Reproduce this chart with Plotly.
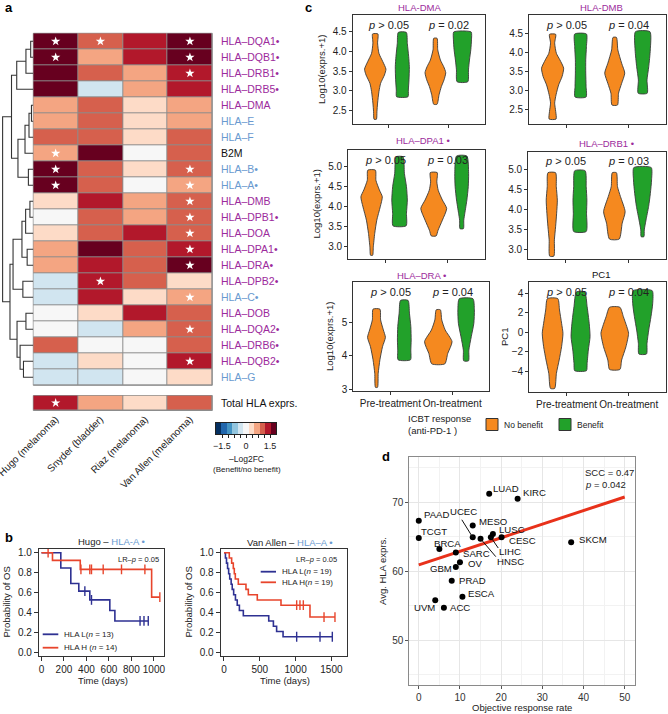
import numpy as np
import plotly.graph_objects as go

W, H = 668, 714
FONT = "Liberation Sans, Arial, sans-serif"
PURPLE = "#9c2a9c"
CLS1 = "#6a9ad0"
ORANGE = "#f5891f"
GREEN = "#22a12a"
KM_BLUE = "#2e3192"
KM_RED = "#e8452c"

# ---------------- Panel a data ----------------
genes = ["HLA–DQA1", "HLA–DQB1", "HLA–DRB1", "HLA–DRB5", "HLA–DMA", "HLA–E", "HLA–F", "B2M",
         "HLA–B", "HLA–A", "HLA–DMB", "HLA–DPB1", "HLA–DOA", "HLA–DPA1", "HLA–DRA", "HLA–DPB2",
         "HLA–C", "HLA–DOB", "HLA–DQA2", "HLA–DRB6", "HLA–DQB2", "HLA–G"]
gene_class = ["II", "II", "II", "II", "II", "I", "I", "B2M", "I", "I", "II", "II", "II", "II",
              "II", "II", "I", "II", "II", "II", "II", "I"]
gene_marked = [1, 1, 1, 1, 0, 0, 0, 0, 1, 1, 0, 1, 0, 1, 1, 1, 1, 0, 1, 1, 1, 0]
cohorts = ["Hugo (melanoma)", "Snyder (bladder)", "Riaz (melanoma)", "Van Allen (melanoma)"]
neg_log2fc = [
    [1.70, 1.02, 1.36, 1.70],
    [1.70, 0.68, 1.36, 1.70],
    [1.70, 1.02, 0.68, 1.36],
    [1.70, -0.34, 0.68, 1.36],
    [0.68, 1.02, 0.34, 0.68],
    [0.68, 1.02, 0.34, 0.68],
    [1.02, 1.02, 0.34, 1.02],
    [0.68, 1.70, 0.00, 1.02],
    [1.70, 1.02, 0.34, 1.02],
    [1.70, 1.02, 0.00, 0.68],
    [0.34, 1.36, 0.68, 1.02],
    [0.00, 1.02, 0.68, 1.02],
    [0.34, 1.02, 1.36, 1.02],
    [0.68, 1.70, 1.02, 1.36],
    [0.68, 1.36, 1.02, 1.70],
    [-0.34, 1.36, 1.02, 0.34],
    [-0.34, 1.36, 0.34, 0.68],
    [0.00, 0.34, 1.36, 1.02],
    [0.00, -0.34, 0.68, 1.02],
    [1.02, 0.00, 0.00, 1.02],
    [-0.34, 0.34, 0.00, 1.36],
    [-0.34, -0.34, 0.00, 0.34],
]
significant = [
    [1, 1, 0, 1], [1, 0, 0, 1], [0, 0, 0, 1], [0, 0, 0, 0], [0, 0, 0, 0], [0, 0, 0, 0],
    [0, 0, 0, 0], [1, 0, 0, 0], [1, 0, 0, 1], [1, 0, 0, 1], [0, 0, 0, 1], [0, 0, 0, 1],
    [0, 0, 0, 1], [0, 0, 0, 1], [0, 0, 0, 1], [0, 1, 0, 0], [0, 0, 0, 1], [0, 0, 0, 0],
    [0, 0, 0, 1], [0, 0, 0, 0], [0, 0, 0, 1], [0, 0, 0, 0],
]
total_hla = [1.36, 0.68, 0.34, 1.02]
total_sig = [1, 0, 0, 0]
# dendrogram linkage: (child a, child b, height); leaves are row indices, merges numbered from 22
linkage = [(0, 1, 0.085), (22, 2, 0.24), (23, 3, 0.54), (4, 5, 0.06), (25, 6, 0.14), (26, 7, 0.27),
           (8, 9, 0.16), (27, 28, 0.50), (24, 29, 0.71), (10, 11, 0.11), (31, 12, 0.25),
           (13, 14, 0.20), (32, 33, 0.37), (15, 16, 0.34), (34, 35, 0.66), (17, 18, 0.24),
           (20, 21, 0.32), (19, 38, 0.43), (37, 39, 0.53), (36, 40, 0.76), (30, 41, 1.00)]
cb_colors = ["#053061", "#2166ac", "#4393c3", "#92c5de", "#d1e5f0", "#f7f7f7",
             "#fddbc7", "#f4a582", "#d6604d", "#b2182b", "#67001f"]
cb_limit = 1.875
cb_ticks = [-1.5, -1.125, -0.75, -0.375, 0, 0.375, 0.75, 1.125, 1.5]
cb_ticktext = ["−1.5", "", "", "", "0", "", "", "", "1.5"]

# ---------------- Panel b data ----------------
hugo_L = dict(t=[172, 261, 332, 430, 608, 653], s=[0.846, 0.692, 0.615, 0.527, 0.421, 0.316],
              cens=[386, 445, 877, 912, 950])
hugo_H = dict(t=[98, 345, 980], s=[0.923, 0.833, 0.555],
              cens=[59, 351, 430, 445, 549, 712, 920, 1053])
va_L = dict(t=[20, 35, 50, 65, 80, 100, 115, 135, 160, 185, 215, 270, 625, 690, 735, 825],
            s=[0.947, 0.895, 0.842, 0.789, 0.737, 0.684, 0.632, 0.579, 0.526, 0.474, 0.421,
               0.368, 0.316, 0.263, 0.211, 0.158],
            cens=[1015, 1341, 1513])
va_H = dict(t=[74, 107, 130, 144, 158, 200, 307, 340, 465, 796, 1201],
            s=[0.947, 0.895, 0.842, 0.789, 0.737, 0.684, 0.632, 0.579, 0.526, 0.474, 0.355],
            cens=[1015, 1061, 1108, 1397, 1550])

# ---------------- Panel c data (violin outlines: value levels and density widths) ----------------
groups = ["Pre-treatment", "On-treatment"]
violins = {
    "DMA": [
        ([2.28, 2.47, 2.69, 2.98, 3.19, 3.40, 3.55, 3.74, 3.95, 4.21, 4.44], [7, 10, 14, 22, 32, 55, 64, 45, 22, 14, 16]),
        ([2.85, 3.02, 3.28, 3.61, 3.87, 4.20, 4.48], [34, 36, 40, 42, 38, 30, 24]),
        ([2.66, 2.90, 3.11, 3.28, 3.46, 3.61, 3.78, 4.04, 4.33], [10, 22, 36, 52, 62, 50, 30, 14, 10]),
        ([3.23, 3.53, 3.78, 4.04, 4.29, 4.49], [32, 36, 42, 50, 54, 52]),
    ],
    "DMB": [
        ([2.24, 2.44, 2.66, 2.88, 3.14, 3.36, 3.58, 3.80, 3.97, 4.24, 4.47], [20, 18, 12, 20, 35, 55, 64, 42, 22, 12, 18]),
        ([2.82, 3.10, 3.45, 3.80, 4.15, 4.48], [32, 32, 30, 30, 34, 34]),
        ([2.61, 2.92, 3.18, 3.45, 3.71, 4.06, 4.39], [16, 22, 40, 58, 40, 18, 10]),
        ([2.92, 3.27, 3.62, 4.06, 4.54], [26, 25, 35, 44, 42]),
    ],
    "DPA1": [
        ([2.79, 3.00, 3.33, 3.66, 3.99, 4.24, 4.41, 4.65, 4.90], [6, 10, 18, 30, 50, 62, 45, 25, 22]),
        ([3.52, 3.83, 4.16, 4.49, 4.82, 5.23], [38, 40, 45, 40, 28, 20]),
        ([3.27, 3.41, 3.66, 3.95, 4.16, 4.40, 4.61, 4.84], [14, 25, 50, 75, 50, 26, 18, 20]),
        ([3.45, 3.66, 3.83, 4.16, 4.49, 4.82, 5.25], [10, 12, 18, 30, 38, 40, 30]),
    ],
    "DRB1": [
        ([2.83, 3.24, 3.57, 3.91, 4.24, 4.58, 4.93], [12, 15, 22, 28, 32, 26, 22]),
        ([3.45, 3.91, 4.24, 4.58, 4.98], [36, 38, 40, 36, 30]),
        ([3.26, 3.66, 3.95, 4.33, 4.58, 4.93], [28, 45, 62, 35, 18, 12]),
        ([3.32, 3.49, 3.74, 4.08, 4.41, 4.75, 5.06], [8, 10, 20, 35, 45, 52, 50]),
    ],
    "DRA": [
        ([3.06, 3.48, 3.88, 4.27, 4.55, 4.77, 5.07, 5.39], [6, 10, 20, 35, 52, 40, 24, 20]),
        ([3.88, 4.17, 4.47, 4.87, 5.27, 5.65], [36, 38, 40, 38, 30, 22]),
        ([3.76, 4.07, 4.42, 4.77, 5.07, 5.37], [38, 55, 80, 40, 20, 12]),
        ([3.85, 4.17, 4.57, 4.97, 5.37, 5.70], [14, 16, 30, 45, 48, 40]),
    ],
    "PC1": [
        ([-5.79, -4.25, -2.87, -1.50, -0.12, 0.91, 2.28, 3.45], [12, 22, 38, 52, 60, 52, 40, 30]),
        ([-3.97, -3.22, -1.84, -0.47, 0.91, 2.63, 4.14], [34, 38, 45, 55, 50, 38, 24]),
        ([-3.84, -2.87, -1.50, -0.12, 0.56, 1.59, 2.56], [30, 40, 65, 80, 70, 50, 30]),
        ([-2.25, -1.15, 0.22, 1.59, 2.97, 4.27], [22, 25, 35, 48, 58, 55]),
    ],
}
pvals = {"DMA": ["> 0.05", "= 0.02"], "DMB": ["> 0.05", "= 0.04"], "DPA1": ["> 0.05", "= 0.03"],
         "DRB1": ["> 0.05", "= 0.03"], "DRA": ["> 0.05", "= 0.04"], "PC1": ["> 0.05", "= 0.04"]}

# ---------------- Panel d data ----------------
cancers = ["LUAD", "KIRC", "PAAD", "UCEC", "MESO", "TCGT", "LUSC", "BRCA", "CESC", "SKCM", "SARC",
           "LIHC", "HNSC", "OV", "GBM", "PRAD", "ESCA", "UVM", "ACC"]
orr = [17.1, 24.0, 0.0, 13.1, 13.1, 0.0, 18.0, 5.0, 20.1, 37.0, 9.0, 17.5, 15.0, 10.0, 9.0, 8.0, 10.6, 4.0, 6.1]
avg_hla = [71.2, 70.5, 67.3, 64.9, 66.6, 64.8, 65.4, 63.2, 64.9, 64.2, 62.7, 64.9, 64.7, 61.3, 60.6, 58.6, 56.3, 55.8, 54.7]
fit_intercept, fit_slope = 60.9, 0.197
scc_text = ["SCC = 0.47", "<i>p</i> = 0.042"]

# ================= helpers =================
def xd(a, b):
    return [a / W, b / W]

def yd(top, bot):
    return [1 - bot / H, 1 - top / H]

annotations, shapes = [], []

def ann(text, x, y, size=10, color="#222", xanchor="center", yanchor="middle", angle=0,
        xref="paper", yref="paper", pad=1):
    if xref == "paper":
        x = x / W
    if yref == "paper":
        y = 1 - y / H
    annotations.append(dict(text=text, x=x, y=y, xref=xref, yref=yref, showarrow=False,
                            font=dict(size=size, color=color, family=FONT), xanchor=xanchor,
                            yanchor=yanchor, textangle=angle, borderpad=pad))

fig = go.Figure()

# ================= Panel a =================
scale = []
for i, c in enumerate(cb_colors):
    scale += [[i / 11, c], [(i + 1) / 11, c]]

fig.add_trace(go.Heatmap(z=neg_log2fc, x=list(range(4)), y=list(range(len(genes))),
                         coloraxis="coloraxis", xgap=1, ygap=1, xaxis="x", yaxis="y", hoverinfo="skip"))
fig.add_trace(go.Heatmap(z=[total_hla], x=list(range(4)), y=[0], coloraxis="coloraxis",
                         xgap=1, ygap=1, xaxis="x", yaxis="y2", hoverinfo="skip"))
sx, sy = [], []
for r, row in enumerate(significant):
    for c, v in enumerate(row):
        if v:
            sx.append(c); sy.append(r)
fig.add_trace(go.Scatter(x=sx, y=sy, mode="markers", xaxis="x", yaxis="y",
                         marker=dict(symbol="star", size=7, color="white"), hoverinfo="skip"))
fig.add_trace(go.Scatter(x=[c for c, v in enumerate(total_sig) if v], y=[0 for v in total_sig if v],
                         mode="markers", xaxis="x", yaxis="y2",
                         marker=dict(symbol="star", size=7, color="white"), hoverinfo="skip"))
for yr in ["y domain", "y2 domain"]:
    shapes.append(dict(type="rect", xref="x domain", yref=yr, x0=0, x1=1, y0=0, y1=1,
                       fillcolor="#8c8c8c", line=dict(color="#8c8c8c", width=1), layer="below"))

# colour key drawn as a small heatmap strip
nb = len(cb_colors)
bw = 2 * cb_limit / nb
cb_centers = [-cb_limit + bw * (i + 0.5) for i in range(nb)]
fig.add_trace(go.Heatmap(z=[cb_centers], x=cb_centers, y=[0], coloraxis="coloraxis",
                         xaxis="x12", yaxis="y12", hoverinfo="skip"))

# dendrogram
pos = {i: float(i) for i in range(len(genes))}
hgt = {i: 0.0 for i in range(len(genes))}
dx, dy = [], []
for k, (a, b, h) in enumerate(linkage):
    node = len(genes) + k
    dx += [hgt[a], h, h, hgt[b], None]
    dy += [pos[a], pos[a], pos[b], pos[b], None]
    pos[node] = (pos[a] + pos[b]) / 2
    hgt[node] = h
fig.add_trace(go.Scatter(x=dx, y=dy, mode="lines", xaxis="x2", yaxis="y",
                         line=dict(color="#333", width=1.1), hoverinfo="skip"))

cls_color = {"II": PURPLE, "I": CLS1, "B2M": "#111"}
for i, g in enumerate(genes):
    ann(g + ("•" if gene_marked[i] else ""), 219, i, size=10.5, color=cls_color[gene_class[i]],
        xanchor="left", yref="y")
ann("Total HLA exprs.", 219, 0, size=10.5, color="#111", xanchor="left", yref="y2")
ann("–Log2FC", 246.5, 458.5, size=8.5)
ann("(Benefit/no benefit)", 246.5, 469, size=8)

# ================= Panel b =================
def km_traces(d, color, xa, ya):
    t = [0] + d["t"]
    s = [1.0] + d["s"]
    end = max(d["cens"] + d["t"])
    xs = t + [end]
    ys = s + [s[-1]]
    fig.add_trace(go.Scatter(x=xs, y=ys, mode="lines", line=dict(color=color, width=1.6, shape="hv"),
                             xaxis=xa, yaxis=ya, hoverinfo="skip"))
    cy = [s[int(np.searchsorted(t, c, side="right")) - 1] for c in d["cens"]]
    fig.add_trace(go.Scatter(x=d["cens"], y=cy, mode="markers", xaxis=xa, yaxis=ya,
                             marker=dict(symbol="line-ns", size=7, line=dict(width=1.4, color=color)),
                             hoverinfo="skip"))

km_traces(hugo_L, KM_BLUE, "x3", "y3")
km_traces(hugo_H, KM_RED, "x3", "y3")
km_traces(va_L, KM_BLUE, "x4", "y4")
km_traces(va_H, KM_RED, "x4", "y4")

ann("Hugo – <span style='color:%s'>HLA-A •</span>" % CLS1, 111, 541.5, size=9.5)
ann("Van Allen – <span style='color:%s'>HLA–A •</span>" % CLS1, 290, 542, size=9.5)
ann("LR–<i>p</i> = 0.05", 160.5, 559, size=7.5, xanchor="right")
ann("LR–<i>p</i> = 0.05", 338.5, 559, size=7.5, xanchor="right")
for (x0, x1, y, col, txt) in [(42.7, 58.3, 634.3, KM_BLUE, "HLA L(<i>n</i> = 13)"),
                              (42.7, 58.3, 647.7, KM_RED, "HLA H (<i>n</i> = 14)"),
                              (260.7, 276, 571.7, KM_BLUE, "HLA L(<i>n</i> = 19)"),
                              (260.7, 276, 582.3, KM_RED, "HLA H(<i>n</i> = 19)")]:
    shapes.append(dict(type="line", xref="paper", yref="paper", x0=x0 / W, x1=x1 / W,
                       y0=1 - y / H, y1=1 - y / H, line=dict(color=col, width=1.8)))
    ann(txt, x1 + 3.5, y, size=8, xanchor="left")
ann("Probability of OS", 6, 602.5, size=9.5, angle=-90)
ann("Probability of OS", 188, 602.5, size=9.5, angle=-90)
ann("Time (days)", 103, 680.5, size=9.5)
ann("Time (days)", 285, 680.5, size=9.5)

# ================= Panel c =================
panel_axes = {"DMA": ("x5", "y5"), "DMB": ("x6", "y6"), "DPA1": ("x7", "y7"),
              "DRB1": ("x8", "y8"), "DRA": ("x9", "y9"), "PC1": ("x10", "y10")}
DENS2HW = 1 / 360.0
offsets = [-0.225, 0.225]
for key, profs in violins.items():
    xa, ya = panel_axes[key]
    for j, (vals, dens) in enumerate(profs):
        center = 1 + j // 2 + offsets[j % 2]
        col = ORANGE if j % 2 == 0 else GREEN
        hw = np.array(dens) * DENS2HW
        v = np.array(vals)
        xs = list(center + hw) + list((center - hw)[::-1]) + [center + hw[0]]
        ys = list(v) + list(v[::-1]) + [v[0]]
        fig.add_trace(go.Scatter(x=xs, y=ys, mode="lines", fill="toself", fillcolor=col,
                                 line=dict(color="#3a3a3a", width=0.9, shape="spline", smoothing=0.6),
                                 xaxis=xa, yaxis=ya, hoverinfo="skip"))
    for g in range(2):
        annotations.append(dict(text="<i>p</i> " + pvals[key][g], x=g + 1, y=0.91, xref=xa,
                                yref=ya + " domain", showarrow=False, xanchor="center", yanchor="middle",
                                font=dict(size=11, color="#222", family=FONT)))

ann("HLA-DMA", 419, 7.5, size=9.5, color=PURPLE)
ann("HLA-DMB", 601, 7.5, size=9.5, color=PURPLE)
ann("HLA–DPA1 •", 423, 141, size=9.5, color=PURPLE)
ann("HLA–DRB1 •", 606, 144, size=9.5, color=PURPLE)
ann("HLA–DRA •", 421.5, 276, size=9.5, color=PURPLE)
ann("PC1", 601, 274.5, size=9.5, color="#111")
ann("Log10(exprs.+1)", 321.5, 69.5, size=9.5, angle=-90)
ann("Log10(exprs.+1)", 316, 204.5, size=9.5, angle=-90)
ann("Log10(exprs.+1)", 329.5, 336.5, size=9.5, angle=-90)
ann("PC1", 504, 337, size=9.5, angle=-90)
ann("ICBT response", 406.5, 418, size=9.5, xanchor="left")
ann("(anti-PD-1 )", 406.5, 430.5, size=9.5, xanchor="left")
for (x0, col, txt) in [(486, ORANGE, "No benefit"), (559, GREEN, "Benefit")]:
    shapes.append(dict(type="rect", xref="paper", yref="paper", x0=x0 / W, x1=(x0 + 12) / W,
                       y0=1 - 430.5 / H, y1=1 - 418.5 / H, fillcolor=col, line=dict(color="#333", width=1)))
    ann(txt, x0 + 15.5, 424.5, size=8.5, xanchor="left")

# ================= Panel d =================
fig.add_trace(go.Scatter(x=[0, 50], y=[fit_intercept, fit_intercept + fit_slope * 50], mode="lines",
                         line=dict(color="#e8311a", width=3), xaxis="x11", yaxis="y11", hoverinfo="skip"))
fig.add_trace(go.Scatter(x=orr, y=avg_hla, mode="markers", marker=dict(size=6, color="black"),
                         xaxis="x11", yaxis="y11", hoverinfo="skip"))
label_pos = {"LUAD": (17.7, 72.0, "left"), "KIRC": (25.0, 71.4, "left"), "PAAD": (0.95, 68.2, "left"),
             "UCEC": (10.8, 68.6, "center"), "MESO": (14.3, 67.2, "left"), "TCGT": (0.35, 65.75, "left"),
             "LUSC": (19.35, 66.1, "left"), "BRCA": (3.55, 64.05, "left"), "CESC": (21.75, 64.45, "left"),
             "SKCM": (38.75, 64.6, "left"), "SARC": (10.45, 62.6, "left"), "LIHC": (19.35, 62.85, "left"),
             "HNSC": (18.8, 61.4, "left"), "OV": (11.65, 61.15, "left"), "GBM": (8.4, 60.35, "right"),
             "PRAD": (9.45, 58.6, "left"), "ESCA": (11.8, 56.7, "left"), "UVM": (4.2, 54.7, "right"),
             "ACC": (7.35, 54.7, "left")}
for name in cancers:
    lx, ly, anc = label_pos[name]
    ann(name, lx, ly, size=9.6, color="#111", xanchor=anc, xref="x11", yref="y11", pad=0)
leaders = [("UCEC", 10.45, 67.45), ("HNSC", 18.7, 62.1), ("LIHC", 19.3, 63.35)]
for name, lx, ly in leaders:
    i = cancers.index(name)
    shapes.append(dict(type="line", xref="x11", yref="y11", x0=lx, y0=ly, x1=orr[i], y1=avg_hla[i],
                       line=dict(color="#111", width=1)))
ann(scc_text[0], 582.5, 472.5, size=9.5, xanchor="left")
ann(scc_text[1], 582.5, 484.5, size=9.5, xanchor="left")
ann("Avg. HLA exprs.", 382, 571, size=9.5, angle=-90)
ann("Objective response rate", 521.5, 707.5, size=9.5)

# panel letters
for letter, x, y in [("a", 3, 8), ("b", 3, 537), ("c", 303, 8), ("d", 380, 457)]:
    ann("<b>%s</b>" % letter, x, y, size=13, color="#000", xanchor="left")

# ================= layout =================
box = dict(showline=True, mirror=True, linecolor="#333", linewidth=1.2, ticks="outside", ticklen=3,
           tickcolor="#333", showgrid=False, zeroline=False, tickfont=dict(size=10, color="#222"),
           automargin=False)
layout = dict(
    width=W, height=H, margin=dict(l=0, r=0, t=0, b=0, autoexpand=False), paper_bgcolor="white",
    plot_bgcolor="white", showlegend=False, font=dict(family=FONT, color="#222"),
    coloraxis=dict(colorscale=scale, cmin=-cb_limit, cmax=cb_limit, showscale=False),
    xaxis=dict(domain=xd(33.3, 212.3), anchor="y2", range=[-0.5, 3.5], tickvals=[0, 1, 2, 3],
               ticktext=cohorts, tickangle=-45, ticks="", showline=False, showgrid=False,
               zeroline=False, tickfont=dict(size=10, color="#222"), automargin=False,
               ticklabeloverflow="allow"),
    yaxis=dict(domain=yd(33.3, 385.3), anchor="x", range=[21.5, -0.5], visible=False),
    yaxis2=dict(domain=yd(395.5, 410.5), anchor="x", range=[0.5, -0.5], visible=False),
    xaxis2=dict(domain=xd(2.0, 33.3), anchor="y", range=[1.02, 0], visible=False),
    xaxis12=dict(domain=xd(216, 276), anchor="y12", range=[-cb_limit, cb_limit], tickvals=cb_ticks,
                 ticktext=cb_ticktext, ticks="outside", ticklen=3, tickcolor="#222", showline=True,
                 mirror=True, linecolor="#222", linewidth=1, showgrid=False, zeroline=False,
                 tickfont=dict(size=9, color="#222"), tickangle=0, automargin=False),
    yaxis12=dict(domain=yd(423, 434), anchor="x12", range=[-0.5, 0.5], showticklabels=False,
                 ticks="", showline=True, mirror=True, linecolor="#222", linewidth=1, showgrid=False,
                 zeroline=False),
    xaxis3=dict(box, domain=xd(39, 164), anchor="y3", range=[-22, 1090], tickvals=[0, 200, 400, 600, 800, 1000], ticklen=4),
    yaxis3=dict(box, domain=yd(549, 656), anchor="x3", range=[-0.035, 1.037],
                tickvals=[0, 0.2, 0.4, 0.6, 0.8, 1.0], tickformat=".1f", ticklen=4),
    xaxis4=dict(box, domain=xd(220.7, 347), anchor="y4", range=[-46, 1718], tickvals=[0, 500, 1000, 1500], ticklen=4),
    yaxis4=dict(box, domain=yd(549, 656), anchor="x4", range=[-0.035, 1.037],
                tickvals=[0, 0.2, 0.4, 0.6, 0.8, 1.0], tickformat=".1f", ticklen=4),
)
vdefs = [("5", (352.7, 485), (15, 124), [2.16, 4.92], [2.5, 3.0, 3.5, 4.0, 4.5], ".1f", False),
         ("6", (529.3, 666), (15, 124), [2.11, 4.98], [2.5, 3.0, 3.5, 4.0, 4.5], ".1f", False),
         ("7", (348.3, 485), (150, 259.3), [2.69, 5.40], [3.0, 3.5, 4.0, 4.5, 5.0], ".1f", False),
         ("8", (528.3, 666), (151.7, 259.3), [2.75, 5.46], [3.0, 3.5, 4.0, 4.5, 5.0], ".1f", False),
         ("9", (353.3, 489.3), (282.3, 390.7), [2.96, 6.19], [3, 4, 5], "d", True),
         ("10", (529.3, 666), (282.3, 391.7), [-6.13, 5.13], [-4, -2, 0, 2, 4], "d", True)]
for n, xdm, ydm, yr, ytv, fmt, labels in vdefs:
    layout["xaxis" + n] = dict(box, domain=xd(*xdm), anchor="y" + n, range=[0.4, 2.6], tickvals=[1, 2],
                               ticktext=groups, showticklabels=labels, tickangle=0)
    layout["yaxis" + n] = dict(box, domain=yd(*ydm), anchor="x" + n, range=yr, tickvals=ytv, tickformat=fmt)
gridax = dict(showline=True, mirror=True, linecolor="#8a8a8a", linewidth=1, ticks="outside", ticklen=3,
              tickcolor="#555", showgrid=True, gridcolor="#e6e6e6", gridwidth=1, zeroline=False,
              tickfont=dict(size=10, color="#333"), automargin=False)
layout["xaxis11"] = dict(gridax, domain=xd(409.3, 635), anchor="y11", range=[-2.3, 52.5],
                         tickvals=[0, 10, 20, 30, 40, 50],
                         minor=dict(tickvals=[5, 15, 25, 35, 45], showgrid=True, gridcolor="#f2f2f2", gridwidth=0.6, ticks=""))
layout["yaxis11"] = dict(gridax, domain=yd(457.3, 685), anchor="x11", range=[43.5, 76.5],
                         tickvals=[50, 60, 70],
                         minor=dict(tickvals=[45, 55, 65, 75], showgrid=True, gridcolor="#f2f2f2", gridwidth=0.6, ticks=""))
layout["annotations"] = annotations
layout["shapes"] = shapes
fig.update_layout(**layout)
fig.write_html("out.html", config={"displayModeBar": False},
               post_script="document.body.style.margin='0';document.body.style.overflow='hidden';")
